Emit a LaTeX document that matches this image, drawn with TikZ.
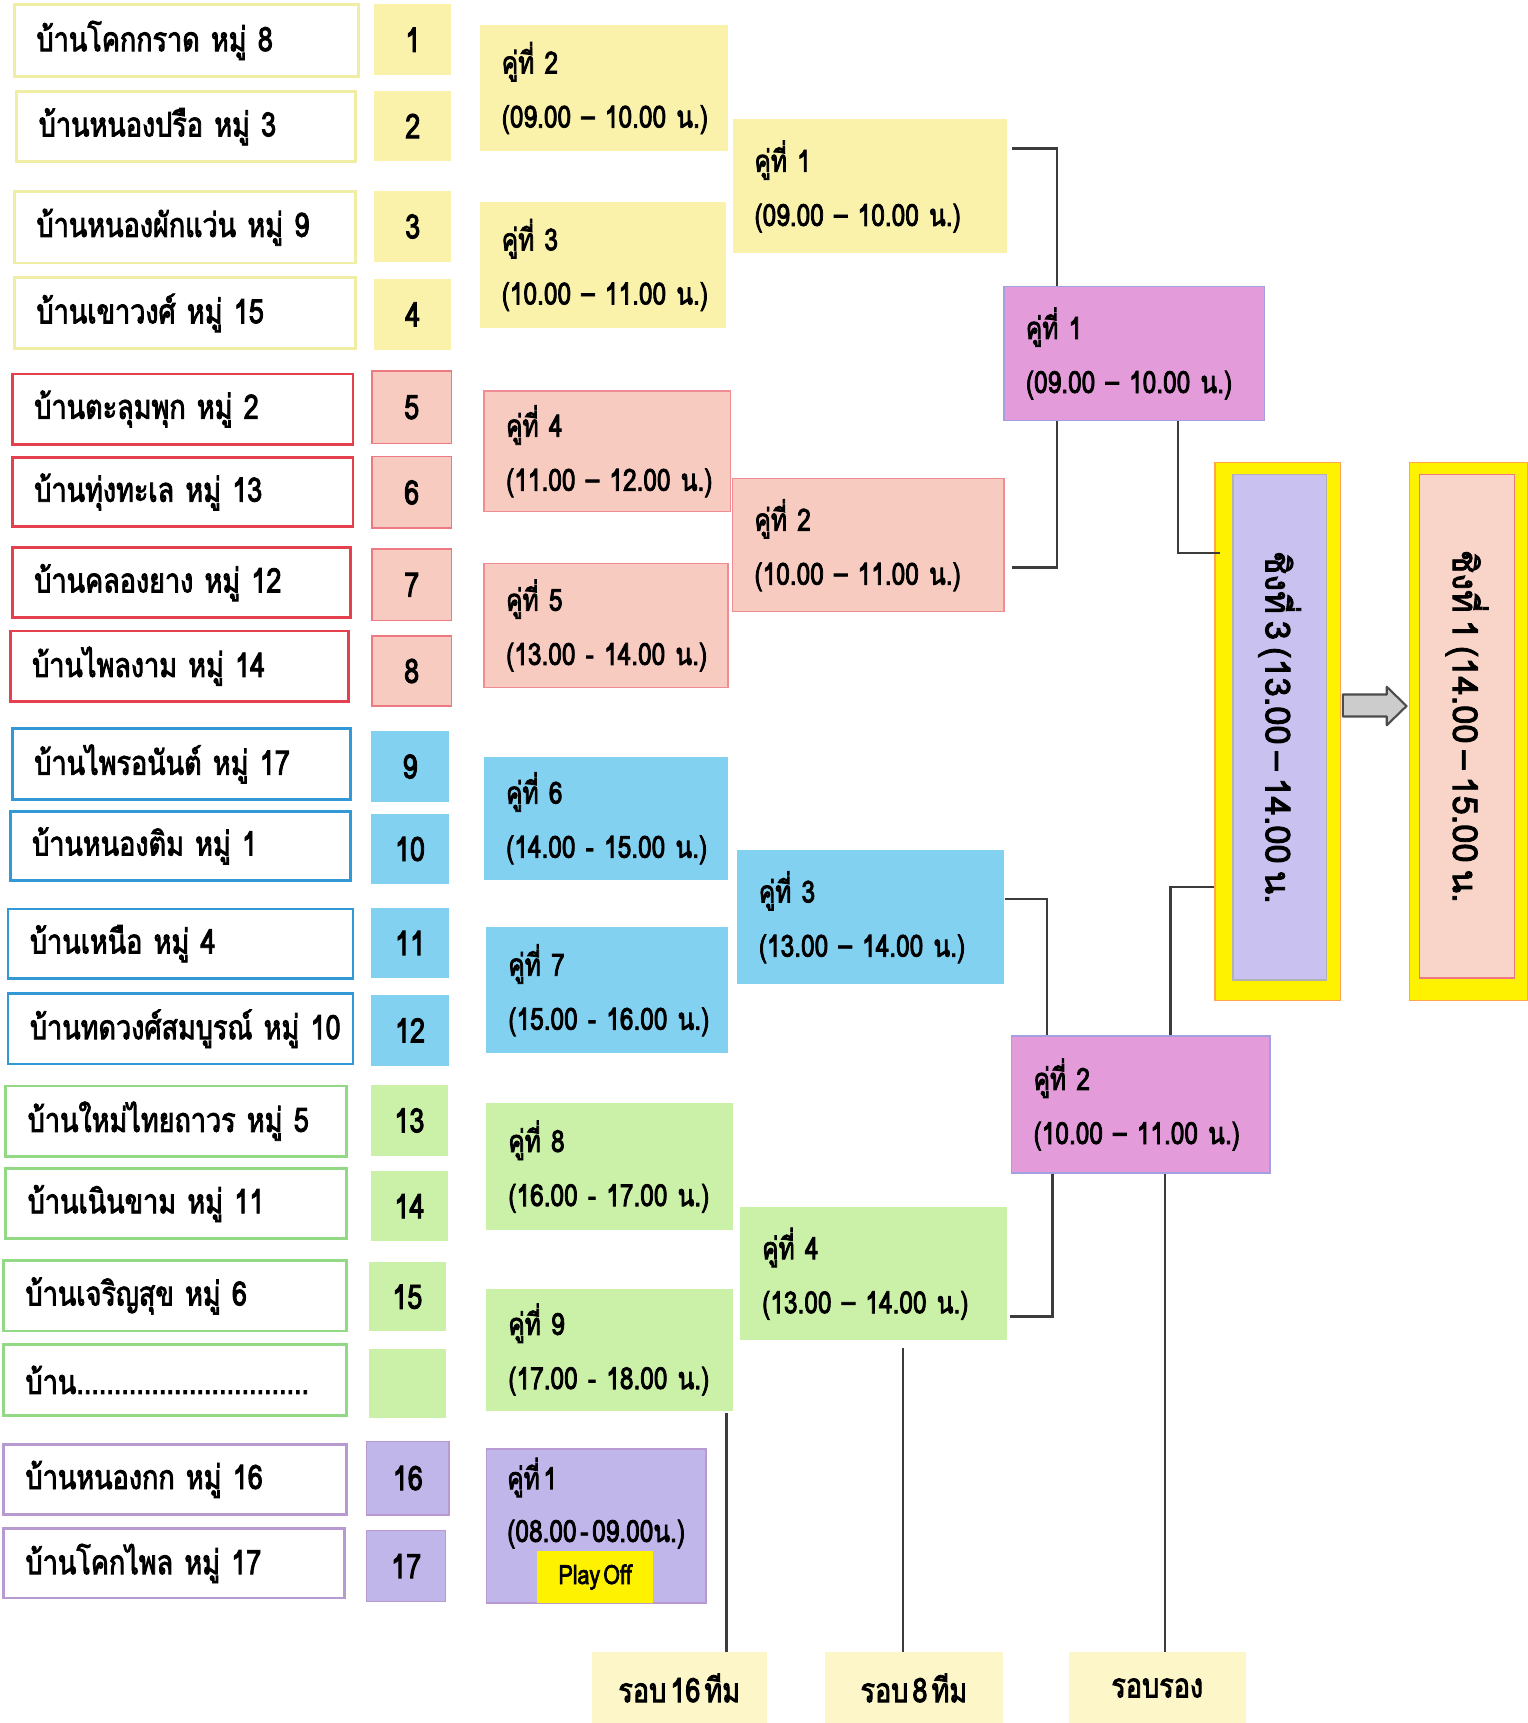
\documentclass[tikz,border=0pt]{standalone}
\usepackage{fontspec}
\newfontfamily\thaifont[Script=Thai,FakeStretch=0.8,FakeBold=2.5,WordSpace=0.45]{Loma}
\newfontfamily\thaiwide[Script=Thai,FakeBold=2.5,WordSpace=0.6]{Loma}
\usetikzlibrary{calc}
\newlength\un
\setlength\un{0.010986cm}
\definecolor{ylwline}{HTML}{F0EDA4}
\definecolor{ylwfill}{HTML}{FAF2AB}
\definecolor{redline}{HTML}{E5404D}
\definecolor{redfill}{HTML}{F7CBC0}
\definecolor{blueline}{HTML}{3399D6}
\definecolor{bluefill}{HTML}{82D1F1}
\definecolor{greenline}{HTML}{93D884}
\definecolor{greenfill}{HTML}{CBF1A8}
\definecolor{purpline}{HTML}{B79BD0}
\definecolor{purpfill}{HTML}{C0B6EA}
\definecolor{orchid}{HTML}{E49BDA}
\definecolor{orchidline}{HTML}{A3A0E2}
\definecolor{lilac}{HTML}{C9C1EF}
\definecolor{peach}{HTML}{F8D5C8}
\definecolor{lemon}{HTML}{FFF200}
\definecolor{cream}{HTML}{FCF6C8}
\definecolor{linkgray}{HTML}{3C3C3C}
\tikzset{
  every node/.style={font=\thaifont\fontsize{9.6}{15.6}\selectfont},
  txtbox/.style 2 args={anchor=north west,align=left,inner xsep=20*\un,inner ysep=0pt,
    text width=(#1-40)*\un,minimum height=#2*\un},
  slot/.style 2 args={txtbox={#1}{#2},font=\thaifont\fontsize{8.7}{15.4}\selectfont},
  numbox/.style 2 args={anchor=north west,inner sep=0pt,minimum width=#1*\un,minimum height=#2*\un},
  namebox/.style={draw,line width=0.8pt,fill=white},
  thin/.style={draw=#1,line width=0.4pt},
  upright/.style={rotate=-90,inner sep=0pt,font=\thaiwide\fontsize{9.8}{12}\selectfont},
  link/.style={draw=linkgray,line width=0.7pt}
}
\begin{document}
\begin{tikzpicture}[x=0.010986cm,y=-0.010986cm]
\fill[white] (0,0) rectangle (1390,1568);
\useasboundingbox (0,0) rectangle (1390,1568);
\node[txtbox={313}{65},namebox,draw=ylwline] (n1) at (12,3) {บ้านโคกกราด~หมู่~8};
\node[txtbox={308}{64},namebox,draw=ylwline] (n2) at (14,82) {บ้านหนองปรือ~หมู่~3};
\node[txtbox={310}{65},namebox,draw=ylwline] (n3) at (12,173) {บ้านหนองผักแว่น~หมู่~9};
\node[txtbox={310}{65},namebox,draw=ylwline] (n4) at (12,251) {บ้านเขาวงศ์~หมู่~15};
\node[txtbox={310}{64},namebox,draw=redline] (n5) at (10,339) {บ้านตะลุมพุก~หมู่~2};
\node[txtbox={310}{63},namebox,draw=redline] (n6) at (10,415) {บ้านทุ่งทะเล~หมู่~13};
\node[txtbox={308}{64},namebox,draw=redline] (n7) at (10,497) {บ้านคลองยาง~หมู่~12};
\node[txtbox={308}{64},namebox,draw=redline] (n8) at (8,573) {บ้านไพลงาม~หมู่~14};
\node[txtbox={308}{64},namebox,draw=blueline] (n9) at (10,662) {บ้านไพรอนันต์~หมู่~17};
\node[txtbox={310}{63},namebox,draw=blueline] (n10) at (8,737) {บ้านหนองติม~หมู่~1};
\node[txtbox={314}{63},namebox,draw=blueline] (n11) at (6,826) {บ้านเหนือ~หมู่~4};
\node[txtbox={314}{64},namebox,draw=blueline] (n12) at (6,903) {บ้านทดวงศ์สมบูรณ์~หมู่~10};
\node[txtbox={310}{64},namebox,draw=greenline] (n13) at (4,987) {บ้านใหม่ไทยถาวร~หมู่~5};
\node[txtbox={310}{64},namebox,draw=greenline] (n14) at (4,1062) {บ้านเนินขาม~หมู่~11};
\node[txtbox={312}{64},namebox,draw=greenline] (n15) at (2,1146) {บ้านเจริญสุข~หมู่~6};
\node[txtbox={312}{65},namebox,draw=greenline] (n16) at (2,1222) {บ้าน...............................};
\node[txtbox={312}{64},namebox,draw=purpline] (n17) at (2,1313) {บ้านหนองกก~หมู่~16};
\node[txtbox={310}{63},namebox,draw=purpline] (n18) at (2,1390) {บ้านโคกไพล~หมู่~17};
\node[numbox={70}{65},fill=ylwfill] (k1) at (340,3) {1};
\node[numbox={70}{64},fill=ylwfill] (k2) at (340,82) {2};
\node[numbox={70}{65},fill=ylwfill] (k3) at (340,173) {3};
\node[numbox={70}{65},fill=ylwfill] (k4) at (340,253) {4};
\node[numbox={72}{66},fill=redfill,thin=redline!70] (k5) at (338,337) {5};
\node[numbox={72}{65},fill=redfill,thin=redline!70] (k6) at (338,415) {6};
\node[numbox={72}{65},fill=redfill,thin=redline!70] (k7) at (338,499) {7};
\node[numbox={72}{64},fill=redfill,thin=redline!70] (k8) at (338,578) {8};
\node[numbox={71}{64},fill=bluefill] (k9) at (337,665) {9};
\node[numbox={71}{64},fill=bluefill] (k10) at (337,740) {10};
\node[numbox={71}{63},fill=bluefill] (k11) at (337,826) {11};
\node[numbox={71}{64},fill=bluefill] (k12) at (337,905) {12};
\node[numbox={70}{64},fill=greenfill] (k13) at (337,987) {13};
\node[numbox={70}{64},fill=greenfill] (k14) at (337,1065) {14};
\node[numbox={70}{63},fill=greenfill] (k15) at (335,1148) {15};
\node[numbox={70}{63},fill=greenfill] (k16) at (335,1227) {};
\node[numbox={75}{67},fill=purpfill,thin=purpline] (k17) at (333,1311) {16};
\node[numbox={72}{65},fill=purpfill,thin=purpline] (k18) at (333,1392) {17};
\node[slot={226}{115},fill=ylwfill] (r2) at (436,22) {คู่ที่ 2\\\mbox{(09.00 – 10.00 น.)}};
\node[slot={224}{115},fill=ylwfill] (r3) at (436,183) {คู่ที่ 3\\\mbox{(10.00 – 11.00 น.)}};
\node[slot={224}{110},fill=redfill,thin=redline!60] (r4) at (440,355) {คู่ที่ 4\\\mbox{(11.00 – 12.00 น.)}};
\node[slot={222}{113},fill=redfill,thin=redline!60] (r5) at (440,512) {คู่ที่ 5\\\mbox{(13.00 - 14.00 น.)}};
\node[slot={222}{112},fill=bluefill] (r6) at (440,688) {คู่ที่ 6\\\mbox{(14.00 - 15.00 น.)}};
\node[slot={220}{115},fill=bluefill] (r7) at (442,843) {คู่ที่ 7\\\mbox{(15.00 - 16.00 น.)}};
\node[slot={224}{116},fill=greenfill] (r8) at (442,1003) {คู่ที่ 8\\\mbox{(16.00 - 17.00 น.)}};
\node[slot={224}{111},fill=greenfill] (r9) at (442,1172) {คู่ที่ 9\\\mbox{(17.00 - 18.00 น.)}};
\node[numbox={200}{140},fill=purpfill,thin=purpline] (r1) at (442,1318) {};
\node[anchor=north west,align=left,inner sep=0pt,font=\thaifont\fontsize{8.7}{15}\selectfont] (r1t) at ($(r1.north west)+(19,8)$) {คู่ที่ 1\\\mbox{(08.00 - 09.00น.)}};
\node[numbox={106}{47},fill=lemon,font=\thaifont\fontsize{7.6}{9}\selectfont] (po) at (488,1411) {Play Off};
\node[slot={250}{122},fill=ylwfill] (q1) at (666,108) {คู่ที่ 1\\\mbox{(09.00 – 10.00 น.)}};
\node[slot={247}{121},fill=redfill,thin=redline!60] (q2) at (666,435) {คู่ที่ 2\\\mbox{(10.00 – 11.00 น.)}};
\node[slot={243}{122},fill=bluefill] (q3) at (670,773) {คู่ที่ 3\\\mbox{(13.00 – 14.00 น.)}};
\node[slot={243}{121},fill=greenfill] (q4) at (673,1098) {คู่ที่ 4\\\mbox{(13.00 – 14.00 น.)}};
\node[slot={237}{122},fill=orchid,thin=orchidline] (s1) at (913,260) {คู่ที่ 1\\\mbox{(09.00 – 10.00 น.)}};
\node[slot={235}{125},fill=orchid,thin=orchidline] (s2) at (920,942) {คู่ที่ 2\\\mbox{(10.00 – 11.00 น.)}};
\node[numbox={114}{490},fill=lemon,thin=orange!70] (tp) at (1105,420) {};
\node[upright,minimum width=460*\un,minimum height=85*\un,fill=lilac,thin=gray!60] (tpi) at (1164.5,662) {ชิงที่ 3 (13.00 – 14.00 น.};
\node[numbox={108}{490},fill=lemon,thin=orange!70] (fn) at (1282,420) {};
\node[upright,minimum width=458*\un,minimum height=86*\un,fill=peach,thin=redline!70] (fni) at (1335,661) {ชิงที่ 1 (14.00 – 15.00 น.};
\draw[fill=gray!40,draw=gray!60!black,line width=0.6pt,line join=round]
  (1222,632) -- (1262,632) -- (1262,625) -- (1280,642.5) -- (1262,660) -- (1262,652) -- (1222,652) -- cycle;
\node[numbox={159}{65},fill=cream] (b1) at (538,1503) {รอบ 16 ทีม};
\node[numbox={162}{65},fill=cream] (b2) at (750,1503) {รอบ 8 ทีม};
\node[numbox={161}{65},fill=cream] (b3) at (972,1503) {รอบรอง};
\draw[link] ($(q1.north east)+(4,27)$) -| ($(s1.north west)+(49,0)$);
\draw[link] ($(s1.south west)+(49,0)$) |- ($(q2.south east)+(7,-41)$);
\draw[link] ($(s1.south west)+(159,0)$) |- ($(tp.north west)+(5,83)$);
\draw[link] ($(q3.north east)+(0,45)$) -| ($(s2.north west)+(33,0)$);
\draw[link] ($(s2.north west)+(145,0)$) |- ($(tp.south west)+(0,-104)$);
\draw[link] ($(s2.south west)+(38,0)$) |- ($(q4.north east)+(2,100)$);
\coordinate (d1) at ($(r9.south east)+(-6,2)$);
\coordinate (d2) at ($(q4.south west)+(149,6)$);
\coordinate (d3) at ($(s2.south west)+(140,0)$);
\draw[link] (d1) -- (d1 |- b1.north);
\draw[link] (d2) -- (d2 |- b2.north);
\draw[link] (d3) -- (d3 |- b3.north);
\end{tikzpicture}
\end{document}
